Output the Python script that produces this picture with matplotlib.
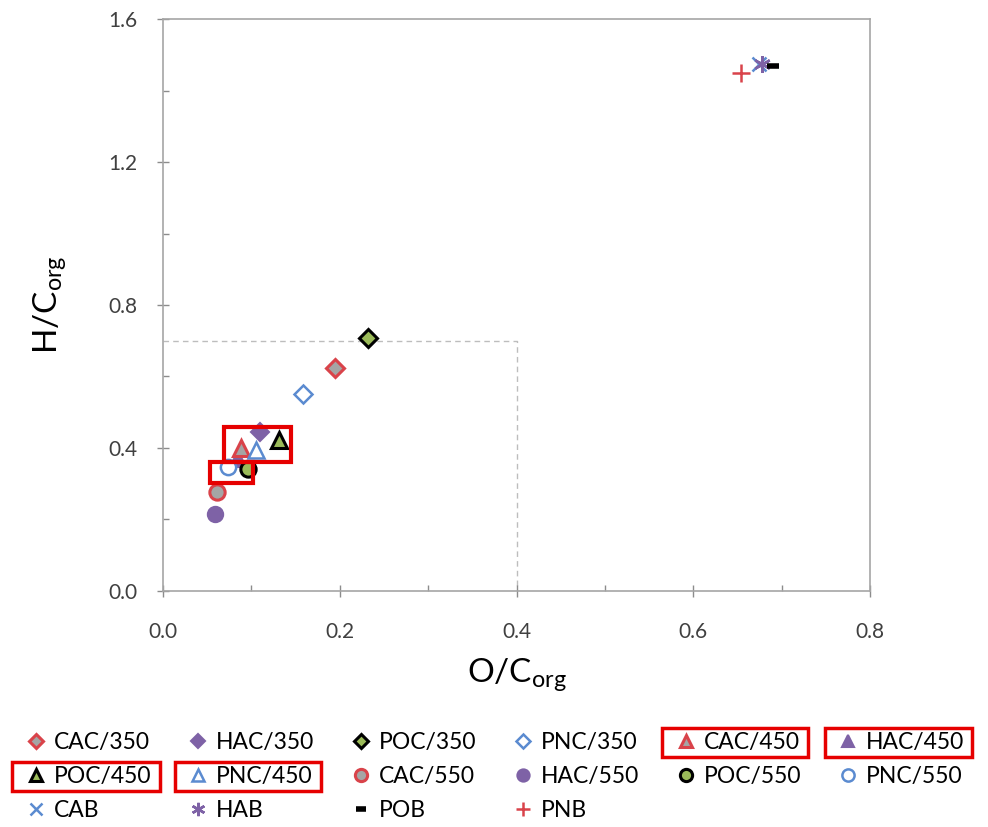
import matplotlib
matplotlib.use("Agg")
import matplotlib.pyplot as plt
from matplotlib.patches import Rectangle
from matplotlib.ticker import MultipleLocator

plt.rcParams['font.family'] = ['Lato', 'DejaVu Sans']
plt.rcParams['mathtext.fontset'] = 'custom'
plt.rcParams['mathtext.rm'] = 'Lato'

# данные (O/C, H/C)
names = ["CAC/350", "HAC/350", "POC/350", "PNC/350",
         "CAC/450", "HAC/450", "POC/450", "PNC/450",
         "CAC/550", "HAC/550", "POC/550", "PNC/550",
         "CAB", "HAB", "POB", "PNB"]
oc = [0.195, 0.110, 0.232, 0.158,
      0.088, 0.085, 0.131, 0.105,
      0.061, 0.059, 0.096, 0.074,
      0.674, 0.678, 0.690, 0.654]
hc = [0.624, 0.445, 0.708, 0.551,
      0.400, 0.370, 0.422, 0.394,
      0.277, 0.215, 0.341, 0.347,
      1.474, 1.474, 1.468, 1.449]

red = "#d9434a"
gray = "#a5a5a5"
purple = "#7e62a6"
green = "#9bbb59"
blue = "#5b8bd0"

# стиль маркеров для каждой серии
styles = {
    "CAC/350": dict(marker="D", mfc=gray, mec=red, ms=9, mew=2.2),
    "HAC/350": dict(marker="D", mfc=purple, mec=purple, ms=9, mew=1.5),
    "POC/350": dict(marker="D", mfc=green, mec="black", ms=9, mew=2.2),
    "PNC/350": dict(marker="D", mfc="white", mec=blue, ms=9, mew=1.8),
    "CAC/450": dict(marker="^", mfc=gray, mec=red, ms=11, mew=2.2),
    "HAC/450": dict(marker="^", mfc=purple, mec=purple, ms=11, mew=1.5),
    "POC/450": dict(marker="^", mfc=green, mec="black", ms=11, mew=2.2),
    "PNC/450": dict(marker="^", mfc="white", mec=blue, ms=11, mew=1.8),
    "CAC/550": dict(marker="o", mfc=gray, mec=red, ms=11, mew=2.2),
    "HAC/550": dict(marker="o", mfc=purple, mec=purple, ms=11, mew=1.5),
    "POC/550": dict(marker="o", mfc=green, mec="black", ms=11, mew=2.2),
    "PNC/550": dict(marker="o", mfc="white", mec=blue, ms=11, mew=1.8),
    "CAB": dict(marker="x", mfc="none", mec=blue, ms=10, mew=1.8),
    "HAB": dict(marker=(6, 2, 0), mfc="none", mec=purple, ms=12, mew=1.8),
    "POB": dict(marker="_", mfc="none", mec="black", ms=9, mew=4),
    "PNB": dict(marker="+", mfc="none", mec=red, ms=13, mew=1.8),
}
zorders = {"HAC/450": 2}

fig = plt.figure(figsize=(9.88, 8.27), dpi=100)
ax = fig.add_axes([0.165, 0.2854, 0.7156, 0.6916])

handles = {}
for n, x, y in zip(names, oc, hc):
    h, = ax.plot([x], [y], linestyle="none", zorder=zorders.get(n, 3),
                 label=n, **styles[n])
    handles[n] = h

# пунктирная рамка
ax.plot([0, 0.4, 0.4], [0.7, 0.7, 0], color="#bdbdbd", lw=1, ls=(0, (4, 3)), zorder=1)

# красные рамки вокруг точек
for x0, y0, w, h in [(0.069, 0.361, 0.076, 0.098), (0.053, 0.302, 0.049, 0.059)]:
    ax.add_patch(Rectangle((x0, y0), w, h, fill=False, ec="#e60000", lw=3, zorder=5))

ax.set_xlim(0, 0.8)
ax.set_ylim(0, 1.6)
ax.xaxis.set_major_locator(MultipleLocator(0.2))
ax.xaxis.set_minor_locator(MultipleLocator(0.1))
ax.yaxis.set_major_locator(MultipleLocator(0.4))
ax.yaxis.set_minor_locator(MultipleLocator(0.2))
ax.xaxis.set_major_formatter(plt.FormatStrFormatter("%.1f"))
ax.yaxis.set_major_formatter(plt.FormatStrFormatter("%.1f"))
ax.tick_params(which="major", direction="inout", length=9, width=1, color="#8c8c8c",
               labelsize=15, labelcolor="#404040")
ax.tick_params(axis="x", which="major", pad=18)
ax.tick_params(axis="y", which="major", pad=14)
ax.tick_params(which="minor", direction="in", length=4, width=1, color="#8c8c8c")
for s in ax.spines.values():
    s.set_color("#a6a6a6")
    s.set_linewidth(1.2)

ax.set_xlabel(r"O/C$_{\mathregular{org}}$", fontsize=24, labelpad=10)
ax.set_ylabel(r"H/C$_{\mathregular{org}}$", fontsize=24, labelpad=28)

# легенда: 6 колонок, порядок по строкам
order = []
for j in range(6):
    for i in range(3):
        k = i * 6 + j
        if k < len(names):
            order.append(names[k])
leg = fig.legend([handles[n] for n in order], order, ncol=6, loc="lower left",
                 bbox_to_anchor=(0.006, -0.018), frameon=False, fontsize=16.5,
                 handlelength=0.8, handletextpad=0.4, columnspacing=1.62,
                 labelspacing=0.58, markerscale=0.8)

# красные рамки вокруг некоторых подписей легенды
fig.canvas.draw()
r = fig.canvas.get_renderer()
boxed = ["CAC/450", "HAC/450", "POC/450", "PNC/450"]
W, H = fig.bbox.width, fig.bbox.height
for t, hl in zip(leg.get_texts(), leg.legend_handles):
    if t.get_text() in boxed:
        tb = t.get_window_extent(r)
        hb = hl.get_window_extent(r)
        x0 = min(tb.x0, hb.x0) - 8
        x1 = min(tb.x1 + 8, W - 2)
        y0 = tb.y0 - 4
        y1 = tb.y1 + 4
        fig.add_artist(Rectangle((x0 / W, y0 / H), (x1 - x0) / W, (y1 - y0) / H,
                                 transform=fig.transFigure, fill=False,
                                 ec="#e60000", lw=2.5))

fig.savefig("out.png", dpi=100)
